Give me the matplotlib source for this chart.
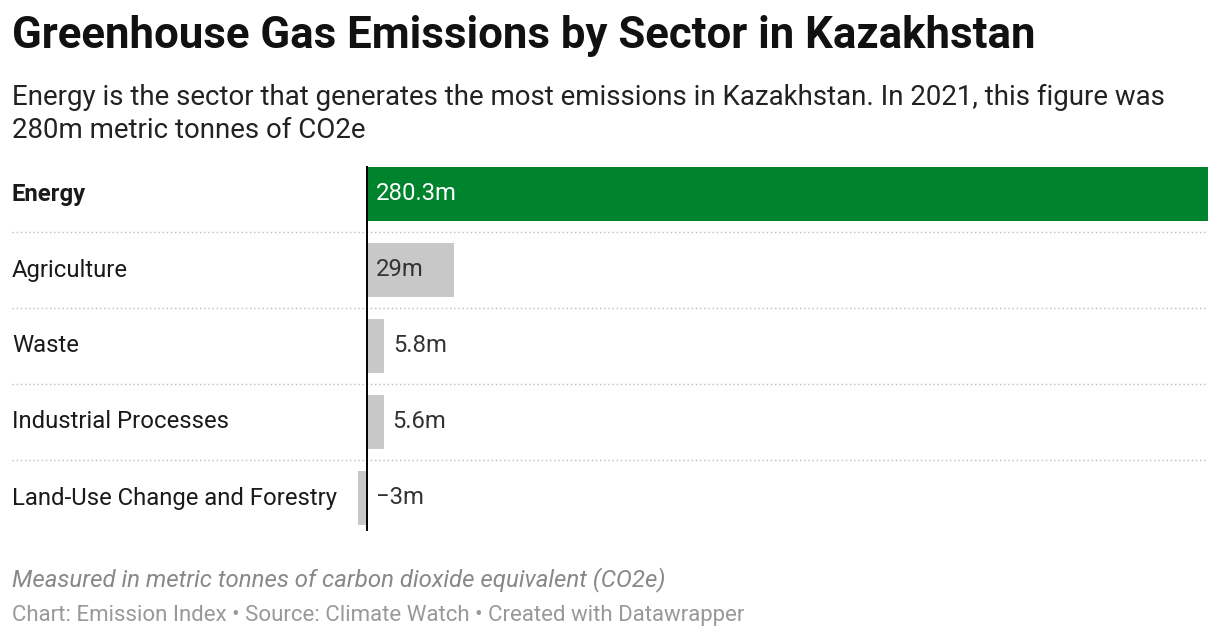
import matplotlib
matplotlib.use("Agg")
import matplotlib.pyplot as plt

categories = ["Energy", "Agriculture", "Waste", "Industrial Processes", "Land-Use Change and Forestry"]
values = [280.3, 29, 5.8, 5.6, -3]
labels = ["280.3m", "29m", "5.8m", "5.6m", "\u22123m"]
colors = ["#00832d", "#c8c8c8", "#c8c8c8", "#c8c8c8", "#c8c8c8"]

plt.rcParams['font.family'] = ['Roboto', 'DejaVu Sans']
W, H = 1220, 640
fig = plt.figure(figsize=(W/100, H/100), dpi=100)
fig.patch.set_facecolor("white")

def px(x0, y0, x1, y1):
    return [x0/W, 1-y1/H, (x1-x0)/W, (y1-y0)/H]

ax = fig.add_axes(px(12, 156, 1208, 536))
ax.set_xlim(-118.3, 280.3)
ax.set_ylim(4.5, -0.5)
ax.axis("off")
ys = range(len(categories))
ax.barh(list(ys), values, height=0.70, color=colors)
fs = 17.2
for i, (c, v, l) in enumerate(zip(categories, values, labels)):
    ax.text(-118.3, i, c, va="center", ha="left", fontsize=fs,
            fontweight="bold" if i == 0 else "normal", color="#1a1a1a")
    if v > 20:
        ax.text(3, i, l, va="center", ha="left", fontsize=fs,
                color="white" if i == 0 else "#333333")
    else:
        ax.text(max(v, 0) + 3, i, l, va="center", ha="left", fontsize=fs, color="#333333")
    if i < len(categories) - 1:
        ax.axhline(i + 0.5, color="#bbbbbb", lw=1, ls=(0, (1, 2)))
ax.plot([0, 0], [-0.35, 4.42], color="black", lw=1.4)

fig.text(12/W, 1-36/H, "Greenhouse Gas Emissions by Sector in Kazakhstan", fontsize=31.5,
         fontweight="bold", va="center", ha="left", color="#111111")
fig.text(12/W, 1-97/H, "Energy is the sector that generates the most emissions in Kazakhstan. In 2021, this figure was",
         fontsize=19.9, va="center", ha="left", color="#222222")
fig.text(12/W, 1-131/H, "280m metric tonnes of CO2e", fontsize=19.9, va="center", ha="left", color="#222222")
fig.text(12/W, 1-580/H, "Measured in metric tonnes of carbon dioxide equivalent (CO2e)", fontsize=17.3,
         style="italic", va="center", ha="left", color="#888888")
fig.text(12/W, 1-616/H, "Chart: Emission Index \u2022 Source: Climate Watch \u2022 Created with Datawrapper",
         fontsize=16, va="center", ha="left", color="#999999")
fig.savefig("out.png", dpi=100)
